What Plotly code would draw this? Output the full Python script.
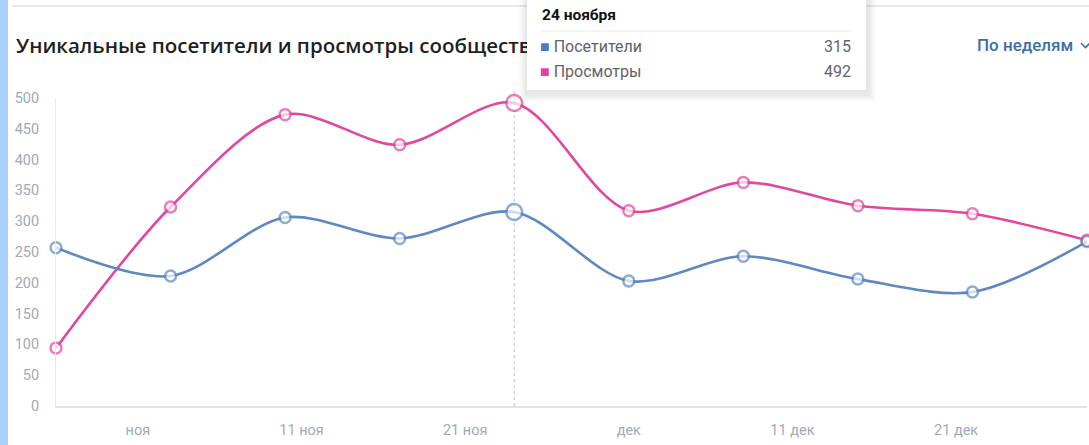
import plotly.graph_objects as go

# ---- data ----
dates = ["2023-10-27", "2023-11-03", "2023-11-10", "2023-11-17", "2023-11-24",
         "2023-12-01", "2023-12-08", "2023-12-15", "2023-12-22", "2023-12-29"]
visitors = [257, 211, 306, 272, 315, 203, 243, 206, 185, 267]
views = [94, 323, 473, 424, 492, 317, 363, 325, 312, 269]
tick_vals = ["2023-11-01", "2023-11-11", "2023-11-21", "2023-12-01", "2023-12-11", "2023-12-21"]
tick_text = ["ноя", "11 ноя", "21 ноя", "дек", "11 дек", "21 дек"]
y_ticks = [0, 50, 100, 150, 200, 250, 300, 350, 400, 450, 500]
hover_date = "2023-11-24"
hover_label = "24 ноября"
series_names = ["Посетители", "Просмотры"]
title_text = "Уникальные посетители и просмотры сообщества"
period_text = "По неделям"

BLUE = "#5d88c2"
PINK = "#e0489f"
BLUE_SQ = "#4b7cc3"
PINK_SQ = "#e63fa6"
FONT = "Roboto"

W, H = 1089, 445
L, R, T, B = 56, 2, 98, 39
pw = W - L - R
ph = H - T - B


def px(xp):
    return (xp - L) / pw


def py(yp):
    return (H - B - yp) / ph


hi = dates.index(hover_date)
sizes = [16 if i == hi else 11 for i in range(len(dates))]

fig = go.Figure()
fig.add_trace(go.Scatter(
    x=dates, y=views, mode="lines+markers", name=series_names[1],
    line=dict(color=PINK, width=2.6, shape="spline", smoothing=0.9),
    marker=dict(size=sizes, color="white", line=dict(color=PINK, width=2.5)),
    cliponaxis=False, hoverinfo="skip"))
fig.add_trace(go.Scatter(
    x=dates, y=visitors, mode="lines+markers", name=series_names[0],
    line=dict(color=BLUE, width=2.6, shape="spline", smoothing=0.9),
    marker=dict(size=sizes, color="white", line=dict(color=BLUE, width=2.5)),
    cliponaxis=False, hoverinfo="skip"))

chev = (f"M {px(1081)} {py(43)} L {px(1085.5)} {py(47.5)} L {px(1090)} {py(43)}")
shapes = [
    # left blue strip
    dict(type="rect", xref="paper", yref="paper", x0=px(0), x1=px(8), y0=py(H), y1=py(0),
         fillcolor="#a8d0fb", line=dict(width=0), layer="below"),
    # top separator
    dict(type="line", xref="paper", yref="paper", x0=px(12), x1=px(W), y0=py(6), y1=py(6),
         line=dict(color="#e6e8eb", width=2), layer="below"),
    # hover guide line
    dict(type="line", xref="x", yref="paper", x0=hover_date, x1=hover_date, y0=0, y1=py(88),
         line=dict(color="#b9c3ce", width=1, dash="dot"), layer="below"),
    # dropdown chevron
    dict(type="path", xref="paper", yref="paper", path=chev,
         line=dict(color="#3f6ea6", width=1.6), layer="above"),
]

ann = []
# title
ann.append(dict(text=title_text, xref="paper", yref="paper", x=px(14), y=py(45),
                xanchor="left", yanchor="middle", showarrow=False,
                font=dict(family="Open Sans", size=20.5, color="#1f1f1f", weight=600)))
# period selector
ann.append(dict(text=period_text, xref="paper", yref="paper", x=px(975), y=py(45),
                xanchor="left", yanchor="middle", showarrow=False,
                font=dict(family=FONT, size=17, color="#3f6ea6", weight=500)))
# tooltip shadow
for i, a in enumerate([0.012, 0.018, 0.025, 0.035]):
    g = 9 - 2 * i
    ann.append(dict(text=" ", xref="paper", yref="paper", x=px(527 - g), y=py(-10),
                    xanchor="left", yanchor="top", showarrow=False,
                    width=339 + 2 * g, height=100 + g + 2, borderpad=0,
                    bgcolor=f"rgba(0,0,0,{a})", font=dict(size=1)))
# tooltip box
ann.append(dict(text=" ", xref="paper", yref="paper", x=px(527), y=py(-10),
                xanchor="left", yanchor="top", showarrow=False,
                width=339, height=100, borderpad=0, bgcolor="white",
                borderwidth=0, font=dict(size=1)))
# tooltip header
ann.append(dict(text="<b>" + hover_label + "</b>", xref="paper", yref="paper", x=px(540), y=py(15),
                xanchor="left", yanchor="middle", showarrow=False,
                font=dict(family=FONT, size=15.5, color="#111111")))
# separator
ann.append(dict(text=" ", xref="paper", yref="paper", x=px(541), y=py(31),
                ax=312, ay=0, axref="pixel", ayref="pixel",
                showarrow=True, arrowhead=0, arrowwidth=1, arrowcolor="#e7e8ea",
                font=dict(size=1), standoff=0, startstandoff=0))
rows = [(series_names[0], visitors[hi], BLUE_SQ, 46), (series_names[1], views[hi], PINK_SQ, 72)]
for name, val, col, yy in rows:
    ann.append(dict(text=f"<span style='color:{col}'>■</span> {name}", xref="paper", yref="paper",
                    x=px(538), y=py(yy), xanchor="left", yanchor="middle", showarrow=False,
                    font=dict(family=FONT, size=16, color="#5f6368")))
    ann.append(dict(text=str(val), xref="paper", yref="paper",
                    x=px(853), y=py(yy), xanchor="right", yanchor="middle", showarrow=False,
                    font=dict(family=FONT, size=16, color="#5f6368")))

fig.update_layout(
    width=W, height=H,
    margin=dict(l=L, r=R, t=T, b=B, pad=0),
    paper_bgcolor="white", plot_bgcolor="white",
    showlegend=False,
    font=dict(family=FONT, size=14.5, color="#a2aab4"),
    shapes=shapes, annotations=ann,
    xaxis=dict(
        type="date", range=[dates[0], dates[-1]],
        tickvals=tick_vals, ticktext=tick_text,
        showgrid=False, zeroline=False, ticks="",
        showline=True, linecolor="#e2e5e8", linewidth=2,
        ticklabelstandoff=10,
        tickfont=dict(family=FONT, size=14.5, color="#a2aab4"),
    ),
    yaxis=dict(
        range=[0, 500], tickvals=y_ticks,
        showgrid=False, zeroline=False, ticks="",
        showline=True, linecolor="#e8eaed", linewidth=1,
        ticklabelstandoff=13,
        tickfont=dict(family=FONT, size=14.5, color="#a2aab4"),
    ),
)

fig.write_html("out.html", config={"displayModeBar": False},
               post_script="document.body.style.margin='0';document.body.style.overflow='hidden';")
